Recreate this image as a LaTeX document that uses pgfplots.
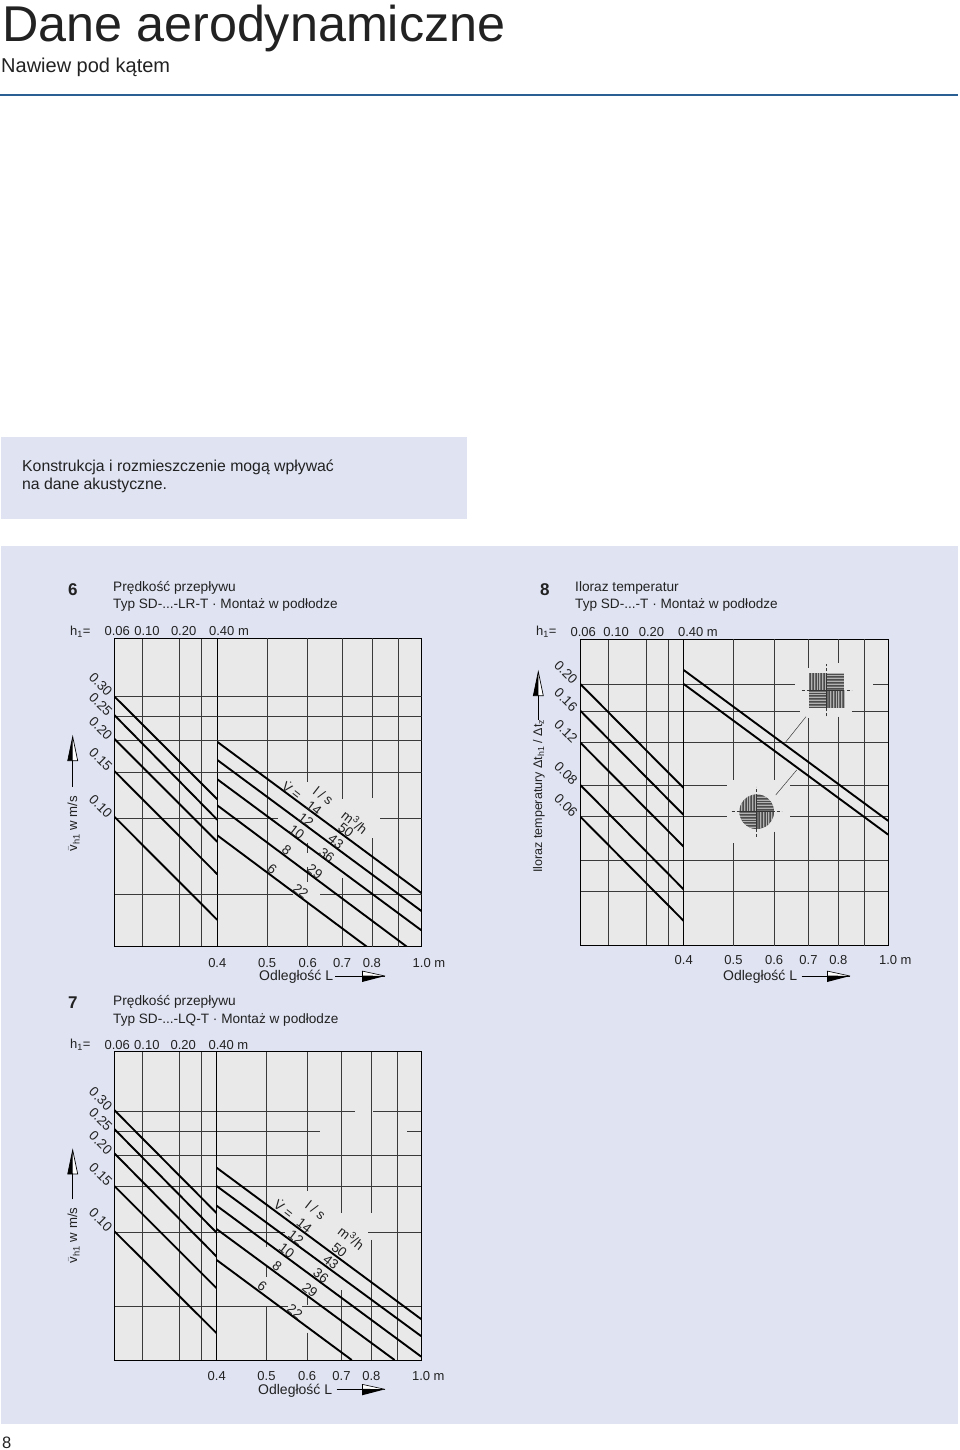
\documentclass[border=0pt]{standalone}
\usepackage{fontspec}
\setmainfont{Liberation Sans}
\usepackage{pgfplots}
\pgfplotsset{compat=1.18}
\definecolor{panelblue}{HTML}{DFE3F2}
\definecolor{plotgray}{HTML}{E9E9E9}
\definecolor{rulecol}{HTML}{2A5F93}
\definecolor{gridcol}{HTML}{3A3A3A}
\definecolor{txtcol}{HTML}{222222}
\newcommand{\fsz}[1]{\fontsize{#1}{#1}\selectfont}
\pgfplotsset{
  chartbase/.style={scale only axis,axis line style={black,line width=0.8pt},
    major tick length=0pt,xminorticks=false,yminorticks=false,
    axis background/.style={fill=plotgray},
    tick label style={font=\fsz{13},text=txtcol}},
  leftax/.style={chartbase,xmin=0.06,xmax=0.4,width=103pt,grid=major,
    major grid style={gridcol,line width=0.7pt},
    xticklabel pos=top,
    xtick={0.06,0.1,0.2,0.3,0.4},
    xticklabel style={xshift=3pt,yshift=-1pt},
    yticklabel style={font=\fsz{13.5},rotate=-45,anchor=east,inner sep=0.5pt,xshift=-4.5pt,yshift=-1pt}},
  rightax/.style={chartbase,xmin=0.4,xmax=1.0,width=204.4pt,ytick=\empty,
    xticklabel style={yshift=-8pt},
    xtick={0.4,0.5,0.6,0.7,0.8,1.0},xticklabels={0.4,0.5,0.6,0.7,0.8,{1.0\rlap{ m}}}},
  seriesln/.style={black,line width=1.9pt,no marks,line cap=butt},
  gridln/.style={gridcol,line width=0.7pt,no marks}
}
\newcommand{\vseg}[3]{\addplot[gridln] coordinates {(#1,#2)(#1,#3)};}
\newcommand{\hseg}[3]{\addplot[gridln] coordinates {(#2,#1)(#3,#1)};}
\newcommand{\txtn}[4][12.3]{\node[anchor=base west,inner sep=0pt,text=txtcol] at (#2pt,-#3pt) {\fsz{#1}#4};}
\newcommand{\rlab}[3]{\node[rotate=-38,inner sep=0pt,text=txtcol] at (#1pt,-#2pt) {\fsz{13.5}#3};}
\newcommand{\harrow}[3]{% x line start, x tip, y
  \draw[black,line width=0.8pt] (#1pt,-#3pt) -- (#2pt,-#3pt);
  \fill[white] (#2pt-23pt,-#3pt) -- (#2pt-23pt,-#3pt+5pt) -- (#2pt,-#3pt) -- cycle;
  \draw[black,line width=0.6pt] (#2pt-23pt,-#3pt+5pt) -- (#2pt,-#3pt);
  \fill[black] (#2pt-23pt,-#3pt+0.5pt) -- (#2pt-23pt,-#3pt-6pt) -- (#2pt,-#3pt) -- cycle;
  \draw[black,line width=0.6pt] (#2pt-23pt,-#3pt+5pt) -- (#2pt-23pt,-#3pt-6pt);}
\newcommand{\varrow}[3]{% x, y tip, y line end
  \draw[black,line width=0.8pt] (#1pt,-#3pt) -- (#1pt,-#2pt-23pt);
  \fill[white] (#1pt,-#2pt-24pt) -- (#1pt+5pt,-#2pt-24pt) -- (#1pt,-#2pt) -- cycle;
  \fill[black] (#1pt,-#2pt-24pt) -- (#1pt-5pt,-#2pt-24pt) -- (#1pt,-#2pt) -- cycle;
  \draw[black,line width=0.7pt] (#1pt-5pt,-#2pt-24pt) -- (#1pt+5pt,-#2pt-24pt) -- (#1pt,-#2pt) -- cycle;}
\newcommand{\quadstripes}[1]{% origin-centred icon; #1 half size
  \fill[gray!85!black] (-#1,-#1) rectangle (#1,#1);
  \foreach \q in {0.14,0.3,0.46,0.62,0.78,0.94}{
    \draw[black!70,line width=0.5pt] (-\q*#1,0pt) -- (-\q*#1,#1);
    \draw[gray!60,line width=0.5pt] (-\q*#1+1pt,0pt) -- (-\q*#1+1pt,#1);
    \draw[black!70,line width=0.5pt] (\q*#1,-#1) -- (\q*#1,0pt);
    \draw[gray!60,line width=0.5pt] (\q*#1+1pt,-#1) -- (\q*#1+1pt,0pt);
    \draw[black!70,line width=0.5pt] (0pt,\q*#1) -- (#1,\q*#1);
    \draw[gray!60,line width=0.5pt] (0pt,\q*#1+1pt) -- (#1,\q*#1+1pt);
    \draw[black!70,line width=0.5pt] (-#1,-\q*#1) -- (0pt,-\q*#1);
    \draw[gray!60,line width=0.5pt] (-#1,-\q*#1+1pt) -- (0pt,-\q*#1+1pt);}
  \draw[black!80,line width=0.7pt] (0pt,-#1)--(0pt,#1) (-#1,0pt)--(#1,0pt);
}
\begin{document}
\begin{tikzpicture}
\useasboundingbox (0pt,0pt) rectangle (960pt,-1450pt);
\fill[white] (0pt,0pt) rectangle (960pt,-1450pt);
\fill[panelblue] (1pt,-437pt) rectangle (466.5pt,-519pt);
\fill[panelblue] (1pt,-545.5pt) rectangle (957.5pt,-1424pt);
\draw[rulecol,line width=1.6pt] (0pt,-95pt) -- (957.5pt,-95pt);

\txtn[50.3]{2}{42}{Dane aerodynamiczne}
\txtn[20]{1}{72.5}{Nawiew pod kątem}
\txtn[15.8]{22}{471.7}{Konstrukcja i rozmieszczenie mogą wpływać}
\txtn[15.8]{22}{489.3}{na dane akustyczne.}
\txtn[16.5]{2}{1448}{8}

% ---------- panel 6
\txtn[17]{68}{595.5}{\textbf{6}}
\txtn[13.7]{113}{591.7}{Prędkość przepływu}
\txtn[13.6]{113}{608}{Typ SD-...-LR-T · Montaż w podłodze}
\txtn[13]{70}{635.7}{h\textsubscript{1}=}
\begin{loglogaxis}[leftax,at={(114.3pt,-946.7pt)},anchor=south west,height=308.4pt,ymin=0.0322,ymax=0.505,
  xticklabels={0.06,\hspace*{4pt}0.10,\hspace*{2pt}0.20,,{\hspace*{3pt}0.40\rlap{ m}}},
  ytick={0.0513,0.1009,0.1533,0.2031,0.2509,0.3},yticklabels={,0.10,0.15,0.20,0.25,0.30}]
\addplot[seriesln] coordinates {(0.06,0.3007)(0.4,0.12)};
\addplot[seriesln] coordinates {(0.06,0.2546)(0.4,0.1)};
\addplot[seriesln] coordinates {(0.06,0.2061)(0.4,0.0821)};
\addplot[seriesln] coordinates {(0.06,0.1546)(0.4,0.0615)};
\addplot[seriesln] coordinates {(0.06,0.1028)(0.4,0.0409)};
\end{loglogaxis}
\begin{loglogaxis}[rightax,at={(217.3pt,-946.7pt)},anchor=south west,height=308.4pt,ymin=0.0322,ymax=0.505]
\hseg{0.3}{0.4}{1}\hseg{0.2509}{0.4}{1}\hseg{0.2031}{0.4}{1}\hseg{0.1533}{0.4}{1}
\hseg{0.1009}{0.4}{0.525}\hseg{0.1009}{0.83}{1}
\hseg{0.0513}{0.4}{0.562}\hseg{0.0513}{0.634}{1}
\vseg{0.5}{0.505}{0.0322}\vseg{0.9}{0.505}{0.0322}
\vseg{0.6}{0.505}{0.1405}\vseg{0.6}{0.0813}{0.0744}\vseg{0.6}{0.0657}{0.0574}\vseg{0.6}{0.048}{0.0322}
\vseg{0.7}{0.505}{0.12}\vseg{0.7}{0.0593}{0.0322}
\vseg{0.8}{0.505}{0.1214}\vseg{0.8}{0.0849}{0.0322}
\addplot[seriesln] coordinates {(0.4,0.2004)(1,0.0519)};
\addplot[seriesln] coordinates {(0.4,0.1705)(1,0.0442)};
\addplot[seriesln] coordinates {(0.4,0.1435)(1,0.0372)};
\addplot[seriesln] coordinates {(0.4,0.1137)(0.9357,0.0322)};
\addplot[seriesln] coordinates {(0.4,0.087)(0.782,0.0322)};
\end{loglogaxis}
\rlab{292.3}{790}{\.{V} =}\rlab{323.3}{795.7}{l / s}\rlab{314}{808.3}{14}\rlab{306}{820}{12}\rlab{296.7}{832.3}{10}\rlab{286.7}{850}{8}\rlab{272.3}{869.3}{6}
\rlab{355}{821.7}{m\textsuperscript{3}/h}\rlab{346}{830}{50}\rlab{336}{841.7}{43}\rlab{326.7}{855}{36}\rlab{315}{871.7}{29}\rlab{300.7}{891}{22}
\txtn[14]{259}{980.7}{Odległość L}
\harrow{335}{385}{976}
\varrow{72.7}{736.7}{786.7}
\node[rotate=90,anchor=base west,inner sep=0pt,text=txtcol] at (77pt,-851.7pt) {\fsz{13.2}$\bar{\mathrm{v}}$\textsubscript{h1} w m/s};

% ---------- panel 7
\txtn[17]{68}{1008}{\textbf{7}}
\txtn[13.7]{113}{1005.5}{Prędkość przepływu}
\txtn[13.6]{113}{1023}{Typ SD-...-LQ-T · Montaż w podłodze}
\txtn[13]{70}{1048}{h\textsubscript{1}=}
\begin{loglogaxis}[leftax,at={(114.3pt,-1360pt)},anchor=south west,height=308.3pt,width=102.4pt,ymin=0.0313,ymax=0.5141,
  xticklabels={0.06,\hspace*{4pt}0.10,\hspace*{2pt}0.20,,{\hspace*{3pt}0.40\rlap{ m}}},
  ytick={0.0508,0.0999,0.1515,0.2012,0.2495,0.3},yticklabels={,0.10,0.15,0.20,0.25,0.30}]
\addplot[seriesln] coordinates {(0.06,0.3027)(0.4,0.1187)};
\addplot[seriesln] coordinates {(0.06,0.2548)(0.4,0.0994)};
\addplot[seriesln] coordinates {(0.06,0.2045)(0.4,0.08)};
\addplot[seriesln] coordinates {(0.06,0.152)(0.4,0.06)};
\addplot[seriesln] coordinates {(0.06,0.1008)(0.4,0.0399)};
\end{loglogaxis}
\begin{loglogaxis}[rightax,at={(216.7pt,-1360pt)},anchor=south west,height=308.3pt,ymin=0.0313,ymax=0.5141]
\hseg{0.3}{0.4}{0.744}\hseg{0.3}{0.807}{1}
\hseg{0.2495}{0.4}{0.636}\hseg{0.2495}{0.94}{1}
\hseg{0.2012}{0.4}{1}\hseg{0.1515}{0.4}{1}
\hseg{0.0999}{0.4}{0.543}\hseg{0.0999}{0.789}{1}
\hseg{0.0508}{0.4}{0.551}\hseg{0.0508}{0.5866}{1}
\vseg{0.9}{0.5141}{0.0313}
\vseg{0.5}{0.5141}{0.0871}\vseg{0.5}{0.073}{0.0665}\vseg{0.5}{0.0511}{0.0313}
\vseg{0.6}{0.5141}{0.1455}\vseg{0.6}{0.0559}{0.0516}\vseg{0.6}{0.0401}{0.0313}
\vseg{0.7}{0.5141}{0.1184}\vseg{0.7}{0.0591}{0.0313}
\vseg{0.8}{0.5141}{0.1184}\vseg{0.8}{0.0931}{0.0313}
\addplot[seriesln] coordinates {(0.4,0.1793)(1,0.0454)};
\addplot[seriesln] coordinates {(0.4,0.1518)(1,0.0389)};
\addplot[seriesln] coordinates {(0.4,0.127)(1,0.0323)};
\addplot[seriesln] coordinates {(0.4,0.1027)(0.888,0.0313)};
\addplot[seriesln] coordinates {(0.4,0.0776)(0.733,0.0313)};
\end{loglogaxis}
\rlab{284.3}{1208.3}{\.{V} =}\rlab{315.7}{1210}{l / s}\rlab{304.3}{1225.7}{14}\rlab{296}{1237.7}{12}\rlab{286.7}{1250.7}{10}\rlab{277.3}{1266}{8}\rlab{262.3}{1286}{6}
\rlab{351.7}{1237.3}{m\textsuperscript{3}/h}\rlab{339.3}{1250}{50}\rlab{331}{1262.3}{43}\rlab{321}{1275.7}{36}\rlab{310}{1290}{29}\rlab{295}{1311.7}{22}
\txtn[14]{258}{1394}{Odległość L}
\harrow{336.7}{385}{1389.3}
\varrow{72.7}{1150}{1199.3}
\node[rotate=90,anchor=base west,inner sep=0pt,text=txtcol] at (77pt,-1263.3pt) {\fsz{13.2}$\bar{\mathrm{v}}$\textsubscript{h1} w m/s};

% ---------- panel 8
\txtn[17]{540}{595.5}{\textbf{8}}
\txtn[13.7]{575}{591.7}{Iloraz temperatur}
\txtn[13.6]{575}{608}{Typ SD-...-T · Montaż w podłodze}
\txtn[13]{536}{635.7}{h\textsubscript{1}=}
\begin{loglogaxis}[leftax,at={(580.3pt,-945.7pt)},anchor=south west,height=306.7pt,width=103.4pt,ymin=0.0186,ymax=0.3009,
  yticklabel style={yshift=-1pt},
  xticklabels={0.06,\hspace*{10pt}0.10,\hspace*{5pt}0.20,,{\hspace*{8pt}0.40\rlap{ m}}},
  ytick={0.0304,0.0402,0.06,0.08,0.1175,0.156,0.2},yticklabels={,,0.06,0.08,0.12,0.16,0.20}]
\addplot[seriesln] coordinates {(0.06,0.2)(0.4,0.0778)};
\addplot[seriesln] coordinates {(0.06,0.157)(0.4,0.0609)};
\addplot[seriesln] coordinates {(0.06,0.1175)(0.4,0.0457)};
\addplot[seriesln] coordinates {(0.06,0.08)(0.4,0.031)};
\addplot[seriesln] coordinates {(0.06,0.06)(0.4,0.0233)};
\end{loglogaxis}
\begin{loglogaxis}[rightax,at={(683.7pt,-945.7pt)},anchor=south west,height=306.7pt,ymin=0.0186,ymax=0.3009,
  xticklabel style={yshift=2pt}]
\hseg{0.2}{0.4}{0.659}\hseg{0.2}{0.9366}{1}
\hseg{0.156}{0.4}{0.674}\hseg{0.156}{0.8505}{1}
\hseg{0.1175}{0.4}{1}
\hseg{0.08}{0.4}{0.4854}\hseg{0.08}{0.6443}{1}
\hseg{0.06}{0.4}{0.4854}\hseg{0.06}{0.6443}{1}
\hseg{0.0402}{0.4}{1}\hseg{0.0304}{0.4}{1}
\vseg{0.9}{0.3009}{0.0186}
\vseg{0.5}{0.3009}{0.0837}\vseg{0.5}{0.0472}{0.0186}
\vseg{0.6}{0.3009}{0.0837}\vseg{0.6}{0.0524}{0.0186}
\vseg{0.7}{0.3009}{0.2312}\vseg{0.7}{0.1468}{0.0186}
\vseg{0.8}{0.3009}{0.242}\vseg{0.8}{0.1487}{0.0186}
\addplot[seriesln] coordinates {(0.4,0.227)(1,0.0578)};
\addplot[seriesln] coordinates {(0.4,0.2)(1,0.051)};
\end{loglogaxis}
\draw[gridcol,line width=0.5pt] (806pt,-716.7pt) -- (783.3pt,-745pt);
\draw[gridcol,line width=0.5pt] (796.7pt,-770pt) -- (775.7pt,-795pt);
\begin{scope}[shift={(826.7pt,-690.3pt)}]
\draw[gridcol,line width=0.5pt,densely dashed] (-25pt,0pt)--(25pt,0pt) (0pt,-26pt)--(0pt,26pt);
\quadstripes{17.5pt}
\end{scope}
\begin{scope}[shift={(756.7pt,-811.7pt)}]
\draw[gridcol,line width=0.5pt,densely dashed] (-25pt,0pt)--(25pt,0pt) (0pt,-25pt)--(0pt,25pt);
\begin{scope}
\clip (0pt,0pt) circle (17.3pt);
\quadstripes{17.5pt}
\end{scope}
\end{scope}
\txtn[14]{723}{980.7}{Odległość L}
\harrow{801.7}{850}{976}
\varrow{538.3}{671.7}{720}
\node[rotate=90,anchor=base west,inner sep=0pt,text=txtcol] at (542pt,-873pt) {\fsz{12.5}Iloraz temperatury Δt\textsubscript{h1} / Δt\textsubscript{z}};
\end{tikzpicture}
\end{document}
